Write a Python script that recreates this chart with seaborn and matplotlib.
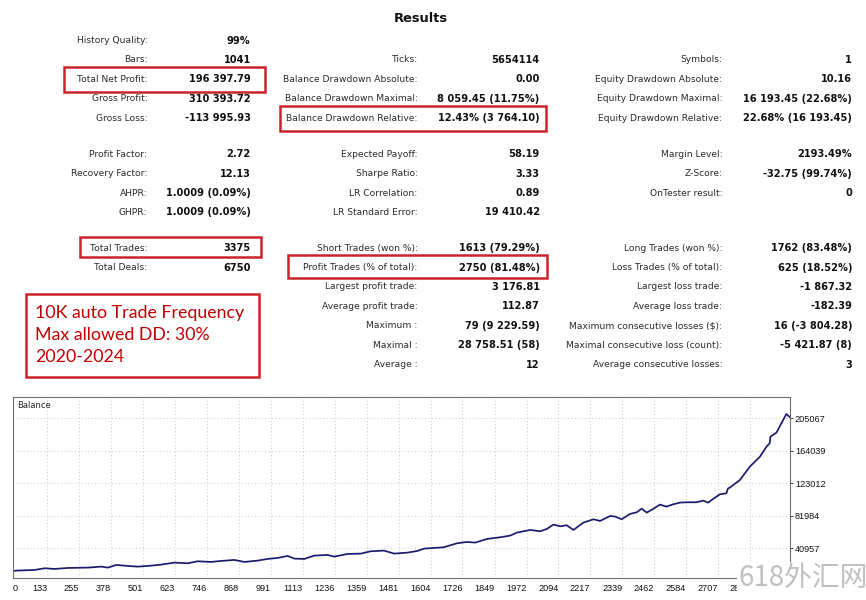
import matplotlib
matplotlib.use("Agg")
import matplotlib.pyplot as plt
from matplotlib.patches import Rectangle
import seaborn as sns
import pandas as pd

# ---------------- data ----------------
title = "Results"

col1_labels = ["History Quality:", "Bars:", "Total Net Profit:", "Gross Profit:", "Gross Loss:",
               "Profit Factor:", "Recovery Factor:", "AHPR:", "GHPR:",
               "Total Trades:", "Total Deals:", "", "", "", "", ""]
col1_values = ["99%", "1041", "196 397.79", "310 393.72", "-113 995.93",
               "2.72", "12.13", "1.0009 (0.09%)", "1.0009 (0.09%)",
               "3375", "6750", "", "", "", "", ""]

col2_labels = ["", "Ticks:", "Balance Drawdown Absolute:", "Balance Drawdown Maximal:", "Balance Drawdown Relative:",
               "Expected Payoff:", "Sharpe Ratio:", "LR Correlation:", "LR Standard Error:",
               "Short Trades (won %):", "Profit Trades (% of total):", "Largest profit trade:",
               "Average profit trade:", "Maximum :", "Maximal :", "Average :"]
col2_values = ["", "5654114", "0.00", "8 059.45 (11.75%)", "12.43% (3 764.10)",
               "58.19", "3.33", "0.89", "19 410.42",
               "1613 (79.29%)", "2750 (81.48%)", "3 176.81",
               "112.87", "79 (9 229.59)", "28 758.51 (58)", "12"]

col3_labels = ["", "Symbols:", "Equity Drawdown Absolute:", "Equity Drawdown Maximal:", "Equity Drawdown Relative:",
               "Margin Level:", "Z-Score:", "OnTester result:", "",
               "Long Trades (won %):", "Loss Trades (% of total):", "Largest loss trade:",
               "Average loss trade:", "Maximum consecutive losses ($):", "Maximal consecutive loss (count):",
               "Average consecutive losses:"]
col3_values = ["", "1", "10.16", "16 193.45 (22.68%)", "22.68% (16 193.45)",
               "2193.49%", "-32.75 (99.74%)", "0", "",
               "1762 (83.48%)", "625 (18.52%)", "-1 867.32",
               "-182.39", "16 (-3 804.28)", "-5 421.87 (8)", "3"]

note_lines = ["10K auto Trade Frequency", "Max allowed DD: 30%", "2020-2024"]

chart_label = "Balance"
watermark = "618外汇网"

trade_idx = [0, 14, 84, 123, 161, 212, 289, 340, 365, 397, 442, 480, 519, 570, 621, 672, 710,
             761, 800, 851, 889, 940, 978, 1017, 1055, 1081, 1119, 1157, 1208, 1234, 1285,
             1336, 1374, 1425, 1464, 1515, 1553, 1579, 1617, 1654, 1705, 1743, 1775, 1820,
             1871, 1909, 1935, 1986, 2024, 2050, 2075, 2101, 2126, 2152, 2190, 2229, 2254,
             2293, 2312, 2337, 2369, 2395, 2414, 2433, 2458, 2484, 2509, 2535, 2561, 2586,
             2624, 2650, 2669, 2688, 2714, 2739, 2745, 2752, 2791, 2829, 2868, 2893, 2905,
             2908, 2931, 2950, 2969, 2983]
balance = [12400, 12790, 13634, 15740, 14896, 16159, 16576, 17838, 16576, 19946, 18684, 17838,
           18684, 20363, 22888, 22054, 24578, 23733, 24996, 26258, 23733, 25412, 27520, 28783,
           31307, 27937, 27520, 31724, 32570, 30461, 33832, 34249, 37203, 38036, 34249, 35511,
           37619, 40560, 41407, 42251, 47301, 48981, 48136, 52768, 54876, 56972, 60759, 64130,
           62451, 65392, 70858, 68762, 70024, 64130, 73383, 77600, 75492, 81804, 80958, 77600,
           84328, 86436, 91058, 86007, 90641, 96106, 93582, 96534, 98630, 99059, 99059, 101156,
           98630, 103264, 109160, 110422, 116500, 117567, 127250, 144078, 156702, 169326, 173500,
           181949, 187000, 198790, 210568, 206398]

x_tick_values = [0, 133, 255, 378, 501, 623, 746, 868, 991, 1113, 1236, 1359, 1481, 1604, 1726,
                 1849, 1972, 2094, 2217, 2339, 2462, 2584, 2707, 2829]
y_tick_values = [40957, 81984, 123012, 164039, 205067]

# ---------------- layout ----------------
W, H = 866, 600
row_y = [40.7, 60.0, 79.4, 98.7, 118.1,
         154.3, 173.7, 193.0, 212.4,
         248.3, 267.7, 287.0, 306.4, 325.8, 345.1, 364.5]
col_label_right = [147.3, 417.7, 722.3]
col_value_right = [250.7, 539.7, 852.0]
red_boxes = [(64.3, 66.7, 265.0, 91.7), (280.0, 106.3, 546.0, 131.0),
             (80.0, 237.3, 261.0, 257.3), (288.3, 255.0, 547.3, 278.3),
             (26.0, 294.3, 258.7, 376.7)]
note_x = 35
note_y = [313.3, 335.0, 356.5]


def fx(px):
    return px / W


def fy(py):
    return 1 - py / H


sns.set_style("white")
plt.rcParams["font.family"] = ["DejaVu Sans"]

fig = plt.figure(figsize=(8.66, 6), dpi=100)
fig.patch.set_facecolor("white")

fig.text(fx(421), fy(18.5), title, ha="center", va="center", fontsize=9.4,
         fontweight="bold", color="#111111")

label_color = "#2a2a2a"
for labels, values, lx, vx in zip([col1_labels, col2_labels, col3_labels],
                                  [col1_values, col2_values, col3_values],
                                  col_label_right, col_value_right):
    for lab, val, y in zip(labels, values, row_y):
        if lab:
            fig.text(fx(lx), fy(y), lab, ha="right", va="center", fontsize=6.6,
                     color=label_color)
        if val:
            fig.text(fx(vx), fy(y), val, ha="right", va="center", fontsize=7.1,
                     fontweight="bold", color="#111111")

red = "#c9242b"
for (x0, y0, x1, y1) in red_boxes:
    fig.patches.append(Rectangle((fx(x0), fy(y1)), fx(x1) - fx(x0), fy(y0) - fy(y1),
                                 transform=fig.transFigure, fill=False,
                                 edgecolor=red, linewidth=1.8))

for line, y in zip(note_lines, note_y):
    fig.text(fx(note_x), fy(y), line, ha="left", va="center", fontsize=12.8,
             family=["Lato", "DejaVu Sans"], color="#c00000")

# ---------------- chart ----------------
ax = fig.add_axes([fx(12.7), fy(578), fx(790) - fx(12.7), fy(397) - fy(578)])
df = pd.DataFrame({"trade": trade_idx, "balance": balance})
sns.lineplot(data=df, x="trade", y="balance", ax=ax, color="#1b1b6b", linewidth=1.25,
             estimator=None)
ax.set_xlim(0, 2983)
ax.set_ylim(3460, 231960)
ax.set_xlabel("")
ax.set_ylabel("")
ax.set_xticks(x_tick_values)
ax.set_xticklabels([str(v) for v in x_tick_values], fontsize=6.6,
                   family=["Liberation Sans"])
for i, t in enumerate(ax.get_xticklabels()):
    t.set_ha("left" if i == 0 else "right")
ax.yaxis.tick_right()
ax.set_yticks(y_tick_values)
ax.set_yticklabels([str(v) for v in y_tick_values], fontsize=6.6,
                   family=["Liberation Sans"])
ax.tick_params(axis="x", length=0, pad=4, colors="#111111")
ax.tick_params(axis="y", length=2.5, width=0.6, pad=1, colors="#111111")
ax.grid(True, linestyle=(0, (1, 2.5)), color="#c8c8c8", linewidth=0.7)
for s in ax.spines.values():
    s.set_color("#6e6e6e")
    s.set_linewidth(0.8)
ax.text(0.0055, 0.955, chart_label, transform=ax.transAxes, fontsize=6.0,
        va="center", ha="left", color="#222222")

fig.text(fx(739), fy(578.5), watermark, ha="left", va="center", fontsize=20,
         family=["Noto Sans CJK SC", "DejaVu Sans"], color="#c0c0c0",
         bbox=dict(facecolor="white", edgecolor="none", pad=1.5), zorder=10)

fig.savefig("out.png", dpi=100, facecolor="white")
